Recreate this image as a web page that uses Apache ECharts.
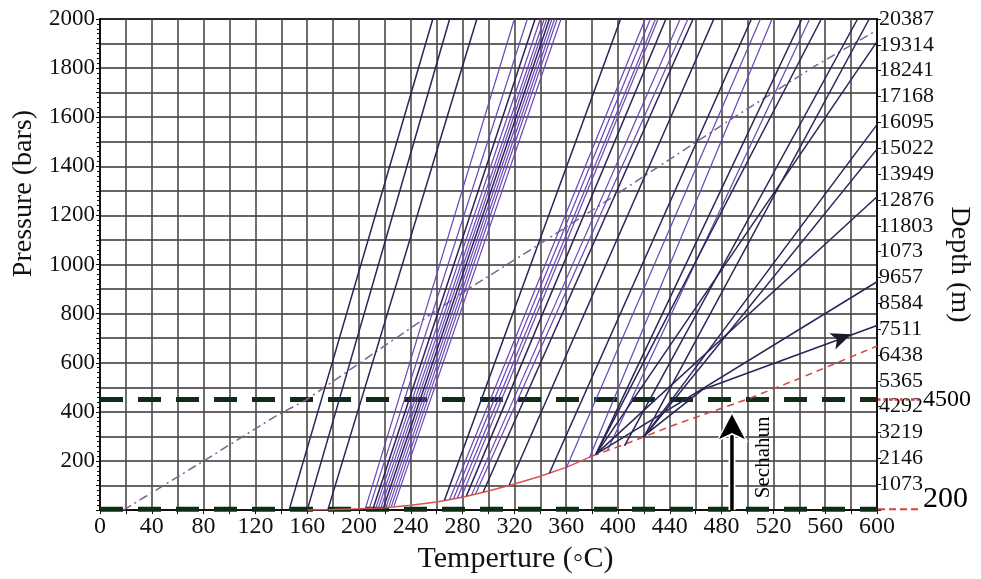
<!DOCTYPE html>
<html><head><meta charset="utf-8">
<script src="https://cdn.jsdelivr.net/npm/echarts@6.0.0/dist/echarts.min.js"></script>
<style>html,body{margin:0;padding:0;background:#fff}#c{width:981px;height:579px}</style>
</head><body><div id="c"></div>
<script>
// ---- tick labels ----
const xTickLabels = [0,40,80,120,160,200,240,280,320,360,400,440,480,520,560,600];
const pressureTickLabels = [200,400,600,800,1000,1200,1400,1600,1800,2000];
const depthTickLabels = ['1073','2146','3219','4292','5365','6438','7511','8584','9657','1073','11803','12876','13949','15022','16095','17168','18241','19314','20387'];
const depthStep = 1073;

// ---- liquid-vapour (boiling) curve ----
const boilT = [160,180,200,220,240,260,280,300,320,340,360,380,400,420,440,460,480,500,520,540,560,580,600];
const boilP = [0,2,5,10,20,33,52,78,106,138,174,220,258,298,340,378,415,452,494,536,580,624,668];

// ---- dash-dot gradient curve ----
const gradT = [18,80,136,159,220,283,340,388,434,485,552,598];
const gradP = [0,200,384,448,670,896,1085,1248,1408,1584,1808,1948];

// ---- isochores: start (on boiling curve) and end points ----
const isoStartT = [146,160,176, 205,208,211,213,215,217,219,221,223,225,227, 266,270,273,276,279,283,287,290,296,316, 347,360,378,383,392,383,405,420,383,420,420,383,383];
const isoStartP = [0,0,2, 7,8,9,9,10,11,12,13,14,15,16, 40,43,46,49,52,58,62,66,75,102, 150,170,214,228,245,228,262,298,228,298,298,228,228];
const isoEndT   = [257,270,291, 320,330,336,340,343,345,347,349,351,353,356, 402,421,425,429,431,437,448,454,458,474, 503,510,519,542,548,557,585,594,600,600,600,600,600];
const isoEndP   = [2000,2000,2000, 2000,2000,2000,2000,2000,2000,2000,2000,2000,2000,2000, 2000,2000,2000,2000,2000,2000,2000,2000,2000,2000, 2000,2000,2000,2000,2000,2000,2000,2000,1908,1570,1470,1276,930];
const isoKind   = ['d','d','d', 'p','p','d','p','p','p','d','p','p','p','p', 'd','p','p','p','p','d','p','p','d','d', 'd','p','p','d','p','d','d','d','d','d','d','d','d'];

// ---- isochore ending in an arrow ----
const arrowIsoT = [419,465,600];
const arrowIsoP = [298,490,752];
const arrowHeadT = [580];
const arrowHeadP = [716];

// ---- reference levels ----
const levelP = [450, 3];          // 4500 m and 200 m
const levelText = ['4500', '200'];
const levelLabelT = 634;
const sechahunT = 488;
const sechahunArrowP = [0, 372];
const sechahunHeadP = 396;
const sechahunLabel = {T: 512, P: 215, text: 'Sechahun'};

const serif = 'Liberation Serif';
const kindColor = {d: '#2a2458', p: '#6a46b6'};
const kindWidth = {d: 1.5, p: 1.2};

const series = [];
// reference dashed levels
levelP.forEach((p, i) => {
  series.push({type: 'line', silent: true, symbol: 'none', z: 2,
    data: [[0, p], [600, p]],
    lineStyle: {color: '#0f2c14', width: 5, type: [23, 15]}});
  series.push({type: 'scatter', silent: true, clip: false, symbolSize: 0,
    itemStyle: {opacity: 1},
    data: [[levelLabelT, p]],
    label: {show: true, position: 'right', distance: 2, formatter: levelText[i],
      fontFamily: serif, fontSize: i === 0 ? 24 : 30, color: '#000', opacity: 1,
      offset: i === 0 ? [0, 0] : [0, -10]}});
});
// gradient dash-dot
series.push({type: 'line', silent: true, symbol: 'none', z: 3,
  data: gradT.map((t, i) => [t, gradP[i]]),
  lineStyle: {color: '#7d6392', width: 1.5, type: [9, 4, 2, 4]}});
// boiling curve
series.push({type: 'line', silent: true, symbol: 'none', z: 4,
  data: boilT.map((t, i) => [t, boilP[i]]).filter(d => d[0] <= 380),
  lineStyle: {color: '#d9534f', width: 1.5}});
series.push({type: 'line', silent: true, symbol: 'none', z: 4,
  data: boilT.map((t, i) => [t, boilP[i]]).filter(d => d[0] >= 380),
  lineStyle: {color: '#d04545', width: 1.5, type: [7, 5]}});
// isochores
isoStartT.forEach((t, i) => {
  series.push({type: 'line', silent: true, symbol: 'none', z: 5,
    data: [[t, isoStartP[i]], [isoEndT[i], isoEndP[i]]],
    lineStyle: {color: kindColor[isoKind[i]], width: kindWidth[isoKind[i]]}});
});
series.push({type: 'line', silent: true, symbol: 'none', z: 5,
  data: arrowIsoT.map((t, i) => [t, arrowIsoP[i]]),
  lineStyle: {color: kindColor.d, width: 1.6}});
series.push({type: 'scatter', silent: true, symbol: 'arrow', symbolSize: [13, 20], symbolRotate: -69.6, z: 6,
  data: arrowHeadT.map((t, i) => [t, arrowHeadP[i]]),
  itemStyle: {color: '#1a1a2a', opacity: 1}});
// Sechahun arrow
series.push({type: 'line', silent: true, symbol: 'none', z: 7,
  data: sechahunArrowP.map(p => [sechahunT, p]),
  lineStyle: {color: '#fff', width: 7}});
series.push({type: 'line', silent: true, symbol: 'none', z: 8,
  data: sechahunArrowP.map(p => [sechahunT, p]),
  lineStyle: {color: '#000', width: 3.5}});
series.push({type: 'scatter', silent: true, symbol: 'arrow', symbolSize: [22, 28], z: 9,
  data: [[sechahunT, sechahunHeadP]],
  itemStyle: {color: '#000', borderColor: '#fff', borderWidth: 1.5, opacity: 1}});
series.push({type: 'scatter', silent: true, symbolSize: 0, z: 9,
  itemStyle: {opacity: 1},
  data: [[sechahunLabel.T, sechahunLabel.P]],
  label: {show: true, position: 'inside', rotate: 90, formatter: sechahunLabel.text,
    fontFamily: serif, fontSize: 21, color: '#000', opacity: 1}});

const chart = echarts.init(document.getElementById('c'), null, {renderer: 'canvas'});
chart.setOption({
  animation: false,
  backgroundColor: '#fff',
  grid: {left: 100, right: 99, top: 19, bottom: 60, show: true, borderColor: '#111', borderWidth: 2, backgroundColor: 'transparent'},
  xAxis: {
    type: 'value', min: 0, max: 600, interval: 20,
    name: 'Temperture (\u25E6C)', nameLocation: 'middle', nameGap: 24,
    nameTextStyle: {fontFamily: serif, fontSize: 30, color: '#111', padding: [0, 0, 0, 54]},
    axisLine: {show: true, lineStyle: {color: '#111', width: 2}},
    axisTick: {show: true, length: 4, lineStyle: {color: '#111'}},
    axisLabel: {margin: 5, fontFamily: serif, fontSize: 24, color: '#111',
      formatter: v => xTickLabels.includes(v) ? String(v) : ''},
    splitLine: {show: true, lineStyle: {color: '#4a4a4a', width: 1.6}}
  },
  yAxis: [{
    type: 'value', min: 0, max: 2000, interval: 100,
    name: 'Pressure (bars)', nameLocation: 'middle', nameGap: 62, nameRotate: 90,
    nameTextStyle: {fontFamily: serif, fontSize: 28, color: '#111', padding: [0, 0, 0, 142]},
    axisLine: {show: true, lineStyle: {color: '#111', width: 2}},
    axisTick: {show: true, length: 4, lineStyle: {color: '#111'}},
    minorTick: {show: true, splitNumber: 5, length: 3, lineStyle: {color: '#111'}},
    axisLabel: {margin: 5, fontFamily: serif, fontSize: 23, color: '#111',
      formatter: v => pressureTickLabels.includes(v) ? String(v) : ''},
    splitLine: {show: true, lineStyle: {color: '#333', width: 1.6}}
  }, {
    type: 'value', position: 'right', min: 0, max: depthStep * depthTickLabels.length, interval: depthStep,
    name: 'Depth (m)', nameLocation: 'middle', nameGap: 68, nameRotate: -90,
    nameTextStyle: {fontFamily: serif, fontSize: 28, color: '#111'},
    axisLine: {show: true, lineStyle: {color: '#111', width: 2}},
    axisTick: {show: true, length: 4, lineStyle: {color: '#111'}},
    axisLabel: {margin: 2, fontFamily: serif, fontSize: 22, color: '#111',
      formatter: v => { const k = Math.round(v / depthStep); return k > 0 ? depthTickLabels[k - 1] : ''; }},
    splitLine: {show: false}
  }],
  series: series
});

// red leaders from the plot edge to the outside level labels, positioned through the chart's own scales
const leaders = levelP.map((p, i) => {
  const a = chart.convertToPixel({gridIndex: 0}, [600, p]);
  const b = chart.convertToPixel({gridIndex: 0}, [levelLabelT - 1, p]);
  return {type: 'line', silent: true, z: 10,
    shape: {x1: a[0] + 1, y1: a[1], x2: b[0], y2: b[1]},
    style: {stroke: '#d9423f', lineWidth: i === 0 ? 2.5 : 2, lineDash: i === 0 ? [2.5, 3] : [7, 4]}};
});
chart.setOption({graphic: leaders});
</script>
</body></html>
